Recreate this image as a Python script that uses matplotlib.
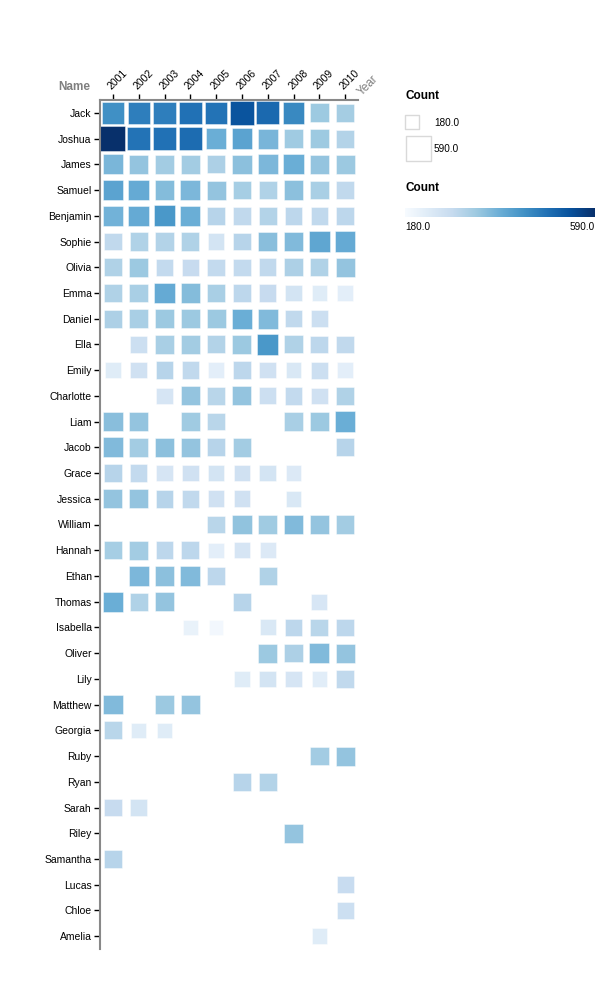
import numpy as np
import matplotlib
matplotlib.use("Agg")
import matplotlib.pyplot as plt

plt.rcParams['font.family'] = ['Liberation Sans', 'DejaVu Sans']

years = ['2001', '2002', '2003', '2004', '2005', '2006', '2007', '2008', '2009', '2010']
names = ['Jack', 'Joshua', 'James', 'Samuel', 'Benjamin', 'Sophie', 'Olivia', 'Emma',
         'Daniel', 'Ella', 'Emily', 'Charlotte', 'Liam', 'Jacob', 'Grace', 'Jessica',
         'William', 'Hannah', 'Ethan', 'Thomas', 'Isabella', 'Oliver', 'Lily', 'Matthew',
         'Georgia', 'Ruby', 'Ryan', 'Sarah', 'Riley', 'Samantha', 'Lucas', 'Chloe', 'Amelia']
N = np.nan
# one row per name, one column per year (nan = no record)
counts = [
    [438, 467, 467, 487, 483, 533, 500, 450, 335, 325],  # Jack
    [590, 483, 487, 495, 385, 405, 372, 332, 335, 307],  # Joshua
    [370, 344, 328, 328, 315, 352, 368, 385, 344, 336],  # James
    [405, 393, 360, 368, 344, 324, 311, 352, 320, 290],  # Samuel
    [377, 393, 426, 385, 303, 290, 307, 295, 290, 295],  # Benjamin
    [290, 311, 307, 311, 254, 303, 356, 364, 401, 393],  # Sophie
    [311, 336, 286, 282, 286, 286, 290, 315, 311, 344],  # Olivia
    [311, 320, 393, 360, 320, 295, 282, 254, 229, 221],  # Emma
    [315, 320, 336, 336, 336, 385, 364, 290, 270, N],    # Daniel
    [N, 270, 320, 328, 307, 336, 426, 311, 295, 290],    # Ella
    [229, 262, 303, 290, 221, 295, 262, 241, 270, 221],  # Emily
    [N, N, 250, 344, 299, 344, 270, 286, 262, 311],      # Charlotte
    [356, 344, N, 332, 299, N, N, 320, 336, 385],        # Liam
    [364, 328, 352, 344, 303, 328, N, N, N, 303],        # Jacob
    [303, 286, 250, 262, 254, 262, 254, 237, N, N],      # Grace
    [344, 344, 303, 290, 262, 262, N, 241, N, N],        # Jessica
    [N, N, N, N, 299, 348, 332, 364, 344, 328],          # William
    [324, 328, 295, 295, 221, 250, 237, N, N, N],        # Hannah
    [N, 368, 352, 364, 295, N, 311, N, N, N],            # Ethan
    [385, 311, 344, N, N, 303, N, N, 246, N],            # Thomas
    [N, N, N, 209, 192, N, 241, 295, 299, 295],          # Isabella
    [N, N, N, N, N, N, 336, 315, 364, 344],              # Oliver
    [N, N, N, N, N, 229, 254, 250, 225, 290],            # Lily
    [364, N, 336, 344, N, N, N, N, N, N],                # Matthew
    [299, 229, 229, N, N, N, N, N, N, N],                # Georgia
    [N, N, N, N, N, N, N, N, 328, 344],                  # Ruby
    [N, N, N, N, N, 303, 307, N, N, N],                  # Ryan
    [282, 254, N, N, N, N, N, N, N, N],                  # Sarah
    [N, N, N, N, N, N, N, 344, N, N],                    # Riley
    [303, N, N, N, N, N, N, N, N, N],                    # Samantha
    [N, N, N, N, N, N, N, N, N, 278],                    # Lucas
    [N, N, N, N, N, N, N, N, N, 270],                    # Chloe
    [N, N, N, N, N, N, N, N, 229, N],                    # Amelia
]
cmin, cmax = 180, 590

fig = plt.figure(figsize=(6, 10), dpi=100)
ax = fig.add_axes([100 / 600, 1 - 949 / 1000, 258 / 600, 849 / 1000])

grid = np.array(counts, dtype=float)
yy, xx = np.nonzero(~np.isnan(grid))
vals = grid[yy, xx]
# square area proportional to count; biggest square about 25 px wide
max_side_pt = 25 * 72 / 100
sizes = max_side_pt ** 2 * vals / cmax
ax.scatter(xx, yy, s=sizes, c=vals, cmap='Blues', vmin=cmin, vmax=cmax,
           marker='s', linewidths=0.6, edgecolors=(1, 1, 1, 0.5))

ax.set_xlim(-0.5, len(years) - 0.5)
ax.set_ylim(len(names) - 0.5, -0.5)
ax.set_xticks(range(len(years)))
ax.set_xticklabels(years, rotation=45, ha='left', va='bottom', rotation_mode='anchor')
ax.set_yticks(range(len(names)))
ax.set_yticklabels(names)
ax.xaxis.tick_top()
ax.tick_params(axis='both', length=4, width=1, color='black', labelsize=7.5, pad=2)
for sp in ['bottom', 'right']:
    ax.spines[sp].set_visible(False)
for sp in ['top', 'left']:
    ax.spines[sp].set_color('#888888')
    ax.spines[sp].set_linewidth(1.5)

fig.text(74 / 600, 1 - 87 / 1000, 'Name', ha='center', va='center',
         fontsize=8.5, fontweight='bold', color='#7f7f7f')
fig.text(364 / 600, 1 - 98 / 1000, 'Year', ha='left', va='bottom', rotation=45,
         rotation_mode='anchor', fontsize=8.5, color='#7f7f7f')

# size legend
fig.text(405 / 600, 1 - 96 / 1000, 'Count', ha='left', va='center',
         fontsize=8.5, fontweight='bold')
lax = fig.add_axes([0, 0, 1, 1], facecolor='none')
lax.set_xlim(0, 600)
lax.set_ylim(1000, 0)
lax.axis('off')
leg_vals = [cmin, cmax]
leg_y = [122, 148]
for v, y in zip(leg_vals, leg_y):
    side = 25 * np.sqrt(v / cmax)
    lax.scatter([405 + side / 2], [y], s=max_side_pt ** 2 * v / cmax, marker='s',
                facecolors='white', edgecolors='#d9d9d9', linewidths=1)
    lax.text(434, y + 1, '%.1f' % v, ha='left', va='center', fontsize=7.2)

# colour legend
fig.text(405 / 600, 1 - 188 / 1000, 'Count', ha='left', va='center',
         fontsize=8.5, fontweight='bold')
gax = fig.add_axes([405 / 600, 1 - 217 / 1000, 190 / 600, 9 / 1000])
gax.imshow(np.linspace(cmin, cmax, 256)[None, :], cmap='Blues', aspect='auto',
           extent=[cmin, cmax, 0, 1])
gax.axis('off')
fig.text(405 / 600, 1 - 227 / 1000, '%.1f' % cmin, ha='left', va='center', fontsize=7.2)
fig.text(595 / 600, 1 - 227 / 1000, '%.1f' % cmax, ha='right', va='center', fontsize=7.2)

fig.savefig('out.png', dpi=100)
